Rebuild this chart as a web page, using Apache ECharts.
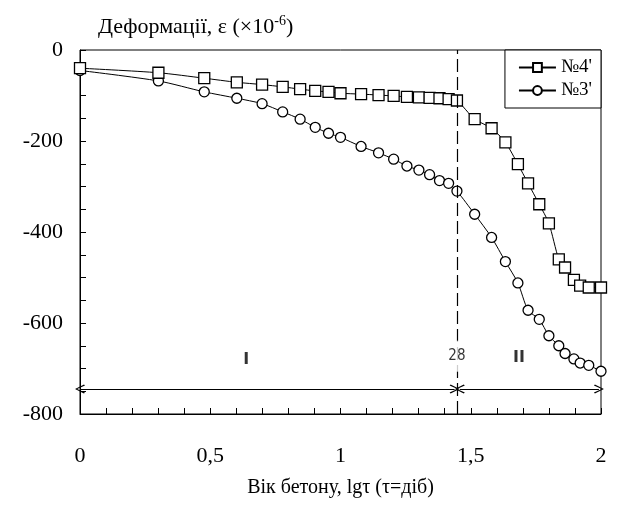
<!DOCTYPE html>
<html>
<head>
<meta charset="utf-8">
<script src="https://cdn.jsdelivr.net/npm/echarts@6/dist/echarts.min.js"></script>
<style>
html,body{margin:0;padding:0;background:#fff;}
#chart{width:617px;height:507px;}
</style>
</head>
<body>
<div id="chart"></div>
<script>
// lg(τ), τ in days
const lgTau = [0, 0.301, 0.477, 0.602, 0.699, 0.778, 0.845, 0.903, 0.954, 1.0,
  1.079, 1.146, 1.204, 1.255, 1.301, 1.342, 1.380, 1.415, 1.447,
  1.515, 1.580, 1.633, 1.681, 1.720, 1.763, 1.800, 1.838, 1.862, 1.896, 1.920, 1.953, 2.0];
const s4 = [-40, -50, -62, -71, -76, -81, -86, -90, -92, -95,
  -97, -99, -101, -103, -104, -105, -106, -108, -111,
  -152, -172, -203, -251, -293, -339, -381, -460, -478, -505, -518, -522, -522];
const s3 = [-45, -68, -92, -106, -118, -136, -152, -170, -183, -192,
  -212, -226, -240, -255, -264, -274, -287, -293, -310,
  -361, -412, -465, -512, -572, -592, -628, -650, -667, -679, -688, -693, -706];
const seriesNames = ["№4'", "№3'"];
const xTicks = [0, 0.5, 1, 1.5, 2];
const yTicks = [0, -200, -400, -600, -800];
const day28 = 1.447;          // lg 28
const arrowLevel = -745;
const periodI = [0, 1.438];
const periodII = [1.458, 1.992];
const annotations = [
  {name: 'I', x: 0.638, y: -680},
  {name: 'II', x: 1.685, y: -676},
  {name: '28', x: 1.447, y: -673}
];

const serif = "'Liberation Serif', 'Times New Roman', serif";
const chevron = 'path://M5,0 L10,9 L9,10 L5,2.2 L1,10 L0,9 Z';

const chart = echarts.init(document.getElementById('chart'), null, {renderer: 'canvas'});
chart.setOption({
  animation: false,
  backgroundColor: '#fff',
  title: {
    text: '{a|Деформації, ε (×10}{s|-6}{a|)}',
    left: 93, top: 9,
    textStyle: {
      fontWeight: 'normal',
      rich: {
        a: {fontFamily: serif, fontSize: 22, fontWeight: 'normal', color: '#000', lineHeight: 27},
        s: {fontFamily: serif, fontSize: 14, fontWeight: 'normal', color: '#000', verticalAlign: 'top', lineHeight: 27, padding: [0, 0, 10, 0]}
      }
    }
  },
  legend: {
    orient: 'vertical',
    right: 16, top: 50,
    padding: [8, 9, 8, 13],
    itemGap: 4,
    itemWidth: 37, itemHeight: 11,
    backgroundColor: '#fff',
    borderColor: '#000', borderWidth: 1, borderRadius: 0,
    textStyle: {fontFamily: serif, fontSize: 19, color: '#000'},
    data: seriesNames
  },
  grid: {
    left: 80, right: 16, top: 50, bottom: 93,
    show: true, borderColor: '#000', borderWidth: 1, backgroundColor: 'transparent'
  },
  xAxis: {
    type: 'value', min: xTicks[0], max: xTicks[xTicks.length - 1], interval: 0.5,
    name: 'Вік бетону, lgτ (τ=діб)', nameLocation: 'middle', nameGap: 64,
    nameTextStyle: {fontFamily: serif, fontSize: 20, color: '#000'},
    axisLine: {show: true, onZero: false, lineStyle: {color: '#000', width: 1}},
    axisTick: {show: true, inside: true, length: 6, lineStyle: {color: '#000'}},
    minorTick: {show: true, splitNumber: 5, length: 6, lineStyle: {color: '#000'}},
    splitLine: {show: false},
    axisLabel: {
      margin: 31, fontFamily: serif, fontSize: 22, color: '#000',
      formatter: v => String(v).replace('.', ',')
    }
  },
  yAxis: {
    type: 'value', min: yTicks[yTicks.length - 1], max: yTicks[0], interval: 200,
    axisLine: {show: true, onZero: false, lineStyle: {color: '#000', width: 1}},
    axisTick: {show: true, inside: true, length: 6, lineStyle: {color: '#000'}},
    minorTick: {show: true, splitNumber: 4, length: 6, lineStyle: {color: '#000'}},
    splitLine: {show: false},
    axisLabel: {margin: 17, fontFamily: serif, fontSize: 22, color: '#000'}
  },
  series: [
    {
      name: seriesNames[1], type: 'line', smooth: 0.25,
      data: lgTau.map((x, i) => [x, s3[i]]),
      symbol: 'circle', symbolSize: 10,
      lineStyle: {color: '#000', width: 1},
      itemStyle: {color: '#fff', borderColor: '#000', borderWidth: 1.3},
      z: 3,
      markLine: {
        silent: true, animation: false,
        symbol: [chevron, chevron], symbolSize: [9, 10],
        lineStyle: {color: '#000', width: 1.2, type: 'solid'},
        label: {show: false},
        data: [
          [{coord: [periodI[0], arrowLevel]}, {coord: [periodI[1], arrowLevel]}],
          [{coord: [periodII[0], arrowLevel]}, {coord: [periodII[1], arrowLevel]}]
        ]
      }
    },
    {
      name: seriesNames[0], type: 'line', smooth: 0.25,
      data: lgTau.map((x, i) => [x, s4[i]]),
      symbol: 'rect', symbolSize: 11,
      lineStyle: {color: '#000', width: 1},
      itemStyle: {color: '#fff', borderColor: '#000', borderWidth: 1.3},
      z: 4,
      markLine: {
        silent: true, animation: false,
        symbol: ['none', 'none'],
        lineStyle: {color: '#000', width: 1.2, type: [13, 5]},
        label: {show: false},
        data: [{xAxis: day28}]
      }
    },
    {
      name: 'annotations', type: 'scatter', symbolSize: 0, silent: true, z: 10,
      data: annotations.map(a => ({
        name: a.name, value: [a.x, a.y],
        label: a.name === '28'
          ? {fontFamily: "'DejaVu Sans Condensed', 'DejaVu Sans', sans-serif", fontSize: 15, fontWeight: 'normal',
             backgroundColor: '#fff', padding: [8, 1, 8, 1]}
          : {fontFamily: "'DejaVu Sans', sans-serif", fontSize: 16, fontWeight: 'bold'}
      })),
      label: {show: true, position: 'inside', color: '#000', formatter: p => p.name}
    }
  ]
});
</script>
</body>
</html>
